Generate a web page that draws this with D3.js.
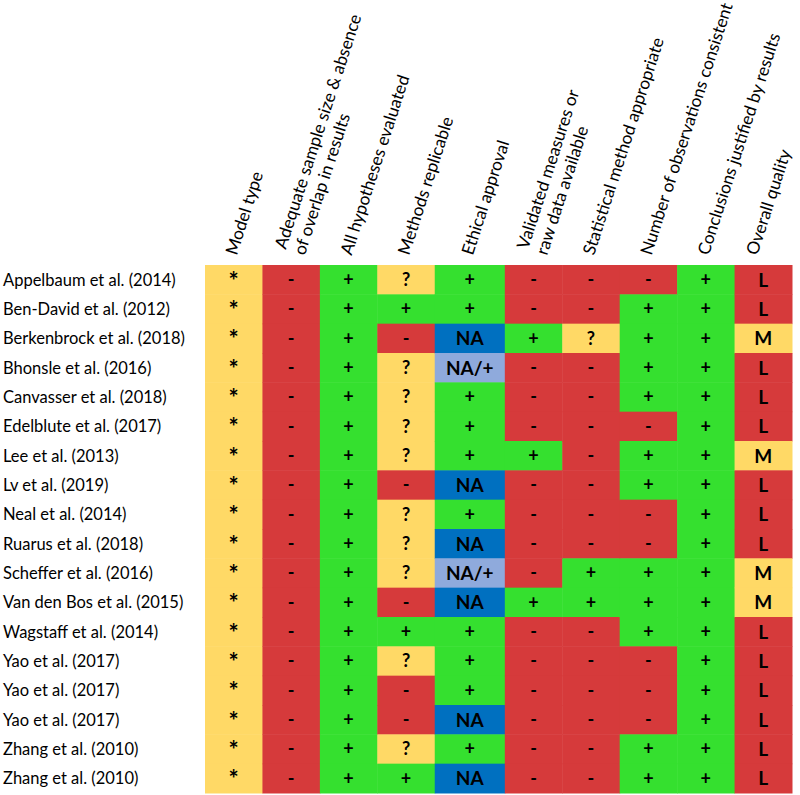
<!DOCTYPE html>
<html>
<head>
<meta charset="utf-8">
<script src="https://cdn.jsdelivr.net/npm/d3@7"></script>
<style>
  html, body { margin: 0; padding: 0; background: #ffffff; }
  svg { display: block; }
</style>
</head>
<body>
<svg id="chart" width="800" height="795"></svg>
<script>
// ---- data ----
const studies = [
  "Appelbaum et al. (2014)", "Ben-David et al. (2012)", "Berkenbrock et al. (2018)",
  "Bhonsle et al. (2016)", "Canvasser et al. (2018)", "Edelblute et al. (2017)",
  "Lee et al. (2013)", "Lv et al. (2019)", "Neal et al. (2014)", "Ruarus et al. (2018)",
  "Scheffer et al. (2016)", "Van den Bos et al. (2015)", "Wagstaff et al. (2014)",
  "Yao et al. (2017)", "Yao et al. (2017)", "Yao et al. (2017)",
  "Zhang et al. (2010)", "Zhang et al. (2010)"
];
const criteria = [
  ["Model type"],
  ["Adequate sample size & absence", "of overlap in results"],
  ["All hypotheses evaluated"],
  ["Methods replicable"],
  ["Ethical approval"],
  ["Validated measures or", "raw data available"],
  ["Statistical method appropriate"],
  ["Number of observations consistent"],
  ["Conclusions justified by results"],
  ["Overall quality"]
];
const modelType        = ["*","*","*","*","*","*","*","*","*","*","*","*","*","*","*","*","*","*"];
const sampleSize       = ["-","-","-","-","-","-","-","-","-","-","-","-","-","-","-","-","-","-"];
const hypotheses       = ["+","+","+","+","+","+","+","+","+","+","+","+","+","+","+","+","+","+"];
const replicable       = ["?","+","-","?","?","?","?","-","?","?","?","-","+","?","-","-","?","+"];
const ethical          = ["+","+","NA","NA/+","+","+","+","NA","+","NA","NA/+","NA","+","+","+","NA","+","NA"];
const validated        = ["-","-","+","-","-","-","+","-","-","-","-","+","-","-","-","-","-","-"];
const statistical      = ["-","-","?","-","-","-","-","-","-","-","+","+","-","-","-","-","-","-"];
const observations     = ["-","+","+","+","+","-","+","+","-","-","+","+","+","-","-","-","+","+"];
const conclusions      = ["+","+","+","+","+","+","+","+","+","+","+","+","+","+","+","+","+","+"];
const overall          = ["L","L","M","L","L","L","M","L","L","L","M","M","L","L","L","L","L","L"];
const series = [modelType, sampleSize, hypotheses, replicable, ethical, validated,
                statistical, observations, conclusions, overall];
const symbols = ["*","-","+","?","NA","NA/+","L","M"];
const symbolColors = ["#FFD966","#D63A3B","#35E02F","#FFD966","#0070C0","#8FAADC","#D63A3B","#FFD966"];

// ---- layout ----
const svg = d3.select("#chart");
const gridLeft = 205, gridRight = 792, gridTop = 265, gridBottom = 793;
const colWeights = criteria.map((c, i) => i === 4 ? 1.22 : 1);
const cum = [0];
colWeights.forEach(w => cum.push(cum[cum.length - 1] + w));
const xs = d3.scaleLinear().domain([0, cum[cum.length - 1]]).range([gridLeft, gridRight]);
const y = d3.scaleBand().domain(d3.range(studies.length)).range([gridTop, gridBottom]).padding(0);
const color = d3.scaleOrdinal().domain(symbols).range(symbolColors);
const FONT = "Lato, 'Open Sans', sans-serif";

const cells = [];
series.forEach((col, ci) => col.forEach((v, ri) => cells.push({ci, ri, v})));

const g = svg.append("g");
g.selectAll("rect.cell").data(cells).join("rect")
  .attr("class", "cell")
  .attr("x", d => xs(cum[d.ci]))
  .attr("y", d => y(d.ri))
  .attr("width", d => xs(cum[d.ci + 1]) - xs(cum[d.ci]) + 0.5)
  .attr("height", y.bandwidth() + 0.5)
  .attr("fill", d => color(d.v));

g.selectAll("text.val").data(cells).join("text")
  .attr("class", "val")
  .attr("x", d => (xs(cum[d.ci]) + xs(cum[d.ci + 1])) / 2)
  .attr("y", d => y(d.ri) + y.bandwidth() / 2)
  .attr("dy", d => d.v === "*" ? "10px" : "0.36em")
  .attr("text-anchor", "middle")
  .attr("font-family", FONT)
  .attr("font-weight", "bold")
  .attr("font-size", d => d.v === "*" ? 24 : (d.v === "L" || d.v === "M" || d.v.startsWith("NA")) ? 19 : 18)
  .attr("fill", "#000")
  .text(d => d.v);

// row labels
svg.append("g").selectAll("text").data(studies).join("text")
  .attr("x", 3)
  .attr("y", (d, i) => y(i) + y.bandwidth() / 2)
  .attr("dy", "0.36em")
  .attr("font-family", FONT)
  .attr("font-size", 16.5)
  .attr("fill", "#000")
  .text(d => d);

// column headers
const headerPos = (d, i, shift) =>
  `translate(${(xs(cum[i]) + xs(cum[i + 1])) / 2 + (d.length > 1 ? 4 : 3) - shift},${d.length > 1 ? 253 : 256}) rotate(-72)`;
const headers = svg.append("g").selectAll("g").data(criteria).join("g")
  .attr("transform", (d, i) => headerPos(d, i, 0));
headers.each(function(lines, i) {
  const n = lines.length;
  d3.select(this).selectAll("text").data(lines).join("text")
    .attr("x", 0)
    .attr("y", (l, k) => (k - (n - 1) / 2) * 20)
    .attr("font-family", FONT)
    .attr("font-size", 17.2)
    .attr("fill", "#000")
    .text(l => l);
  const r = this.getBoundingClientRect();
  const over = r.right - 795;
  if (over > 0) d3.select(this).attr("transform", headerPos(lines, i, over));
});
</script>
</body>
</html>
